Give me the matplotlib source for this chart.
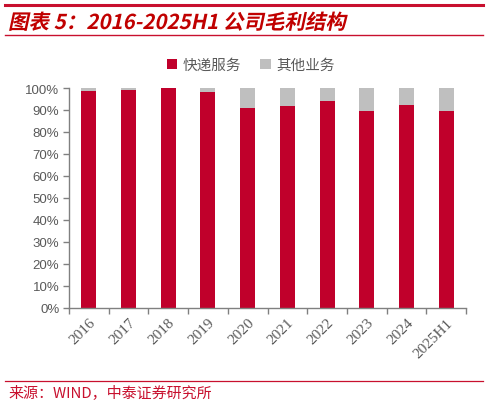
import matplotlib
matplotlib.use("Agg")
import matplotlib.pyplot as plt
import numpy as np
from matplotlib.font_manager import FontProperties
from matplotlib.patches import PathPatch
from matplotlib.textpath import TextPath
from matplotlib.transforms import Affine2D, IdentityTransform
from matplotlib.lines import Line2D

years = ["2016", "2017", "2018", "2019", "2020", "2021", "2022", "2023", "2024", "2025H1"]
express = [98.6, 99.1, 99.8, 98.1, 91.0, 91.6, 93.9, 89.4, 92.1, 89.4]
other = [100 - v for v in express]
series_names = ["快递服务", "其他业务"]
y_ticks = [0, 10, 20, 30, 40, 50, 60, 70, 80, 90, 100]

RED = "#C0002B"
GRAY = "#BFBFBF"
TITLE_RED = "#C00000"
LINE_RED = "#C8102E"
TEXT_GRAY = "#595959"
CJK = ["Noto Sans CJK SC", "DejaVu Sans"]

W, H = 488, 406
fig = plt.figure(figsize=(W / 100, H / 100), dpi=100)
ax = fig.add_axes([69 / W, 1 - 308.5 / H, (466 - 69) / W, (308.5 - 89) / H])

x = np.arange(len(years))
ax.bar(x, express, width=0.38, color=RED, label=series_names[0])
ax.bar(x, other, width=0.38, bottom=express, color=GRAY, label=series_names[1])

ax.set_xlim(-0.5, len(years) - 0.5)
ax.set_ylim(0, 100)
ax.set_yticks(y_ticks)
ax.set_yticklabels([f"{t}%" for t in y_ticks], fontsize=9.5,
                   family="Liberation Sans", color=TEXT_GRAY)
ax.set_xticks(x)
ax.set_xticklabels(years, rotation=45, ha="right", rotation_mode="anchor",
                   fontsize=11, family="Liberation Serif", color=TEXT_GRAY)
ax.set_xticks(np.arange(-0.5, len(years)), minor=True)
ax.tick_params(axis="x", which="major", length=0, pad=6)
ax.tick_params(axis="x", which="minor", length=4, color="#808080", width=1)
ax.tick_params(axis="y", length=4, color="#808080", width=1, pad=3)

for side in ["top", "right"]:
    ax.spines[side].set_visible(False)
for side in ["left", "bottom"]:
    ax.spines[side].set_color("#808080")
    ax.spines[side].set_linewidth(1)

ax.legend(loc="center", bbox_to_anchor=(251 / W, 1 - 66 / H),
          bbox_transform=fig.transFigure, ncol=2, frameon=False,
          handlelength=0.7, handleheight=0.7, handletextpad=0.4,
          columnspacing=1.3, prop=FontProperties(family=CJK, size=10.5),
          labelcolor=TEXT_GRAY)

# header / footer rules
fig.add_artist(Line2D([5 / W, 483 / W], [1 - 6 / H, 1 - 6 / H], color=LINE_RED, lw=2.2))
fig.add_artist(Line2D([5 / W, 483 / W], [1 - 35.5 / H, 1 - 35.5 / H], color=LINE_RED, lw=1.0))
fig.add_artist(Line2D([5 / W, 483 / W], [1 - 382 / H, 1 - 382 / H], color=LINE_RED, lw=0.9))

# italic bold title drawn as a skewed text path
title = "图表 5：2016-2025H1 公司毛利结构"
tp = TextPath((0, 0), title, size=20.5,
              prop=FontProperties(family="Noto Sans CJK SC", weight="bold"))
tr = Affine2D().skew_deg(12, 0).translate(8, H - 30) + IdentityTransform()
fig.add_artist(PathPatch(tp, transform=tr, color=TITLE_RED, lw=0))

fig.text(8 / W, 1 - 393 / H, "来源：WIND，中泰证券研究所", ha="left", va="center",
         fontsize=10.8, family=CJK, color=LINE_RED)

fig.savefig("out.png", dpi=100)
